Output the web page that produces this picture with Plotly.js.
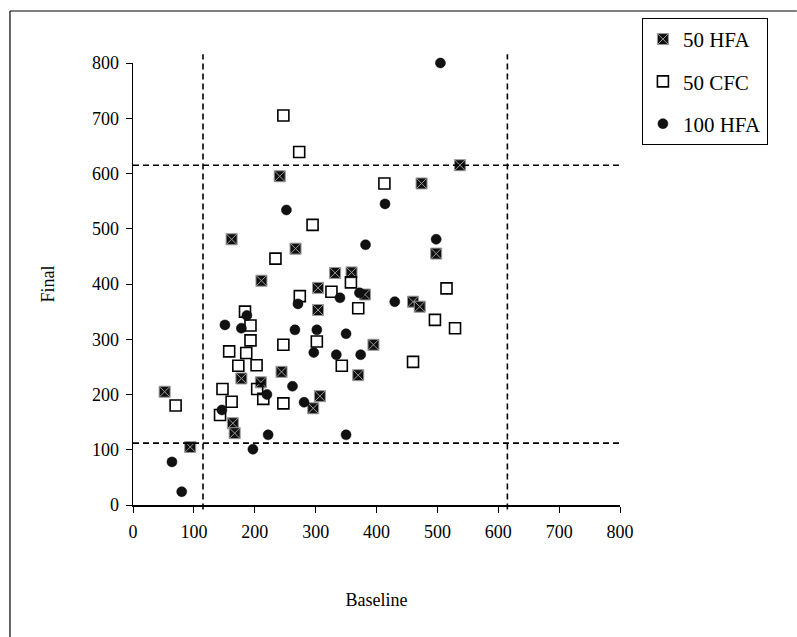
<!DOCTYPE html>
<html>
<head>
<meta charset="utf-8">
<script src="https://cdn.plot.ly/plotly-3.0.1.min.js"></script>
<style>html,body{margin:0;padding:0;background:#fff;}#chart{width:797px;height:637px;}</style>
</head>
<body>
<div id="chart"></div>
<script>
// 50 HFA (Baseline, Final)
const hfa50X = [241,162,267,211,332,359,537,474,498,304,304,381,460,471,395,370,244,307,296,178,164,167,52,94,210];
const hfa50Y = [595,481,464,406,420,421,615,582,455,393,353,381,368,359,290,235,241,197,175,229,148,130,205,105,222];
// 50 CFC
const cfcX = [247,273,295,234,413,274,326,358,370,184,193,193,158,186,173,203,147,204,214,162,143,70,247,302,343,247,496,515,529,460];
const cfcY = [705,639,507,446,582,378,386,403,356,350,325,298,278,275,252,253,210,210,192,187,163,180,290,296,252,184,335,392,320,259];
// 100 HFA
const hfa100X = [505,252,414,382,498,151,187,178,146,220,222,197,64,80,266,271,302,297,350,334,374,340,372,262,281,350,430];
const hfa100Y = [800,534,545,471,481,326,343,320,172,200,127,101,78,24,317,364,317,276,310,272,272,375,384,215,186,127,368];

const seriesNames = ['50 HFA', '50 CFC', '100 HFA'];
const axisTicks = [0,100,200,300,400,500,600,700,800];
const vLines = [115, 615];   // Baseline reference lines
const hLines = [112, 615];   // Final reference lines

const font = 'Liberation Serif, Times New Roman, serif';

const traces = [
  {x: hfa50X, y: hfa50Y, name: seriesNames[0], type: 'scatter', mode: 'markers', legendgroup: 'a', cliponaxis: false,
   marker: {symbol: 'square-x', size: 11, color: '#111', line: {color: '#999', width: 1}}},
  {x: cfcX, y: cfcY, name: seriesNames[1], type: 'scatter', mode: 'markers', legendgroup: 'b', cliponaxis: false,
   marker: {symbol: 'square-open', size: 11, color: '#000', line: {color: '#000', width: 1.6}}},
  {x: hfa100X, y: hfa100Y, name: seriesNames[2], type: 'scatter', mode: 'markers', legendgroup: 'c', cliponaxis: false,
   marker: {symbol: 'circle', size: 10, color: '#111', line: {color: '#000', width: 0.5}}}
];

const shapes = [];
vLines.forEach(v => shapes.push({type: 'line', xref: 'x', yref: 'paper', x0: v, x1: v, y0: -0.01, y1: 1.02,
  line: {color: '#000', width: 1.6, dash: '6px,4px'}}));
hLines.forEach(v => shapes.push({type: 'line', xref: 'paper', yref: 'y', x0: 0, x1: 1.0, y0: v, y1: v,
  line: {color: '#000', width: 1.6, dash: '6px,4px'}}));
// outer chart frame (top and left edges)
shapes.push({type: 'line', xref: 'paper', yref: 'paper', x0: -0.2526, x1: 1.363, y0: 1.1176, y1: 1.1176, line: {color: '#000', width: 1.2}});
shapes.push({type: 'line', xref: 'paper', yref: 'paper', x0: -0.2526, x1: -0.2526, y0: 1.1176, y1: -0.31, line: {color: '#000', width: 1.2}});

const layout = {
  width: 797, height: 637,
  margin: {l: 133, r: 177, t: 63, b: 132},
  paper_bgcolor: '#fff', plot_bgcolor: '#fff',
  font: {family: font, color: '#000', size: 17},
  showlegend: true,
  legend: {x: 1.045, y: 1.102, xanchor: 'left', yanchor: 'top', bordercolor: '#000', borderwidth: 1,
    font: {family: font, size: 21, color: '#000'}, tracegroupgap: 12, bgcolor: '#fff'},
  xaxis: {range: [0, 800], tickvals: axisTicks, ticktext: axisTicks.map(String), showgrid: false, zeroline: false,
    showline: true, linecolor: '#000', linewidth: 1.5, ticks: 'outside', ticklen: 6, tickcolor: '#000',
    ticklabelstandoff: 4,
    tickfont: {family: font, size: 18, color: '#000'},
    title: {text: 'Baseline', font: {family: font, size: 18, color: '#000'}, standoff: 52}},
  yaxis: {range: [0, 800], tickvals: axisTicks, ticktext: axisTicks.map(String), showgrid: false, zeroline: false,
    showline: true, linecolor: '#000', linewidth: 1.5, ticks: 'outside', ticklen: 6, tickcolor: '#000',
    ticklabelstandoff: 3,
    tickfont: {family: font, size: 18, color: '#000'},
    title: {text: 'Final', font: {family: font, size: 18, color: '#000'}, standoff: 32}},
  shapes: shapes
};

Plotly.newPlot('chart', traces, layout, {displayModeBar: false, staticPlot: true});
</script>
</body>
</html>
